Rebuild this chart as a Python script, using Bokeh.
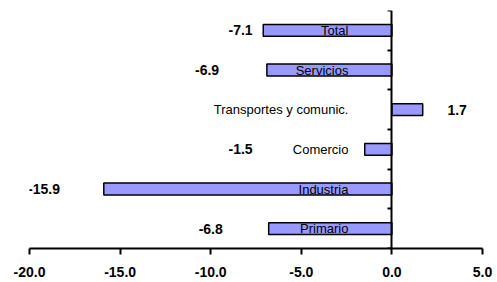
from bokeh.plotting import figure
from bokeh.models import Range1d, FixedTicker, NumeralTickFormatter, ColumnDataSource
from bokeh.core.properties import value
from bokeh.embed import file_html
from bokeh.resources import INLINE

# Data (bottom to top)
categories = ["Primario", "Industria", "Comercio", "Transportes y comunic.", "Servicios", "Total"]
values = [-6.8, -15.9, -1.5, 1.7, -6.9, -7.1]
x_ticks = [-20, -15, -10, -5, 0, 5]
# positions of the value labels (data units, as placed in the original)
value_label_x = [-10.0, -19.2, -8.35, 3.6, -10.2, -8.35]
category_label_right = -2.4

y_pos = [i + 0.5 for i in range(len(categories))]
src = ColumnDataSource(dict(
    y=y_pos,
    v=values,
    cat=categories,
    vtxt=["%.1f" % v for v in values],
    vx=value_label_x,
))

FONT = "Liberation Sans"

p = figure(width=497, height=282, x_range=Range1d(-20, 5), y_range=Range1d(0, len(categories)),
           output_backend="svg", toolbar_location=None,
           min_border_left=29, min_border_right=15, min_border_top=10, min_border_bottom=34)
p.outline_line_color = None
p.xgrid.visible = False
p.ygrid.visible = False
p.background_fill_color = "white"
p.border_fill_color = "white"

p.hbar(y="y", right="v", left=0, height=0.3, fill_color="#9999FF", line_color="black",
       line_width=1.5, source=src)

p.text(x=category_label_right, y="y", text="cat", source=src, text_align="right",
       text_baseline="middle", text_font=value(FONT), text_font_size="13px", text_color="black")

p.text(x="vx", y="y", text="vtxt", source=src, text_align="center", text_baseline="middle",
       text_font=value(FONT), text_font_size="14px", text_font_style="bold", text_color="black")

# x axis
xa = p.xaxis[0]
xa.ticker = FixedTicker(ticks=x_ticks)
xa.formatter = NumeralTickFormatter(format="0.0")
xa.axis_line_width = 2
xa.major_tick_line_width = 2
xa.major_tick_out = 6
xa.major_tick_in = 0
xa.minor_tick_line_color = None
xa.major_label_standoff = 12
xa.major_label_text_font = FONT
xa.major_label_text_font_size = "14px"
xa.major_label_text_font_style = "bold"
xa.major_label_text_color = "black"

# y axis at x = 0 (ticks at category boundaries, no labels)
y_ticks = list(range(len(categories) + 1))
ya = p.yaxis[0]
ya.fixed_location = 0
ya.ticker = FixedTicker(ticks=y_ticks)
ya.major_label_overrides = {t: "" for t in y_ticks}
ya.axis_line_width = 2
ya.major_tick_line_width = 2
ya.major_tick_out = 4
ya.major_tick_in = 0
ya.minor_tick_line_color = None

open("out.html", "w").write(file_html(p, INLINE))
